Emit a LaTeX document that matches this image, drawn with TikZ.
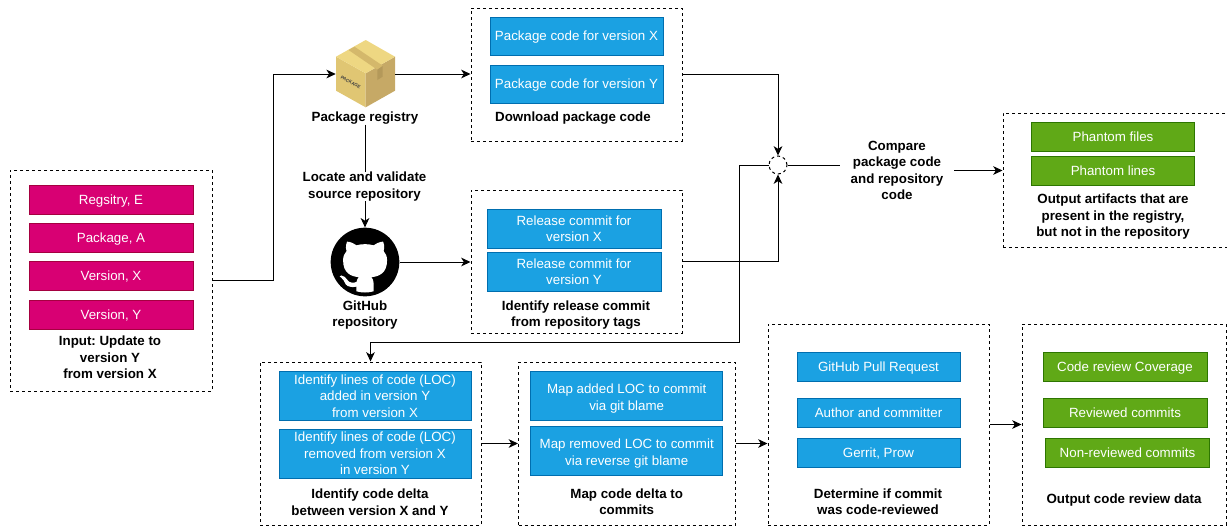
\documentclass[tikz,border=0pt]{standalone}
\usepackage{fontspec}
\setmainfont{Liberation Sans}
\usetikzlibrary{arrows.meta,calc,svg.path}
\definecolor{pinkfill}{HTML}{D80073}
\definecolor{pinkline}{HTML}{A50040}
\definecolor{bluefill}{HTML}{1BA1E2}
\definecolor{blueline}{HTML}{006EAF}
\definecolor{greenfill}{HTML}{60A917}
\definecolor{greenline}{HTML}{2D7600}
\def\topgap{\rule{0pt}{11pt}}
\tikzset{
	wh/.style 2 args={minimum width=#1*0.75pt, minimum height=#2*0.75pt},
	groupbox/.style={draw, line width=0.75pt, dash pattern=on 2.25pt off 2.25pt, inner sep=0pt},
	itembox/.style={draw, line width=0.75pt, inner sep=0pt, text=white, align=center, font=\fontsize{10}{12.4}\selectfont\frenchspacing},
	oneline/.style={text height=7.2pt, text depth=0.4pt},
	pinkbox/.style={itembox, fill=pinkfill, draw=pinkline},
	bluebox/.style={itembox, fill=bluefill, draw=blueline},
	greenbox/.style={itembox, fill=greenfill, draw=greenline},
	caption/.style={align=center, inner sep=0pt, font=\fontsize{10}{12.4}\selectfont\bfseries\frenchspacing},
	link/.style={line width=0.75pt, -{Stealth[length=7pt,width=6.5pt,inset=2pt]}},
	plainlink/.style={line width=0.75pt}
}

\begin{document}
\begin{tikzpicture}[x=0.75pt, y=-0.75pt]
	%%%%% START %%%%%
	\useasboundingbox (0, 0) rectangle (1227, 529);

	% input
	\node[groupbox, wh={202}{221}] (input) at (111, 280.5) {};
	\node[pinkbox, oneline, wh={164}{29}] (registry) at (111, 199.5) {Regsitry, E};
	\node[pinkbox, oneline, wh={164}{29}] (package) at (111, 237.5) {Package, A};
	\node[pinkbox, oneline, wh={164}{29}] (versionx) at (111, 275.5) {Version, X};
	\node[pinkbox, oneline, wh={164}{29}] (versiony) at (111, 314.5) {Version, Y};
	\node[caption] (inputlabel) at (110, 357.5) {Input: Update to\\version Y\\from version X};

	% package icon
	\node[inner sep=0pt, wh={59}{67}] (pkg) at (365.5, 74) {};
	\fill[color={rgb,255:red,224;green,198;blue,115}] (336, 56.7) -- (365.7, 73.3) -- (365.7, 107.3) -- (336, 90.7) -- cycle;
	\fill[color={rgb,255:red,198;green,169;blue,102}] (395, 56.7) -- (365.7, 73.3) -- (365.7, 107.3) -- (395, 90.7) -- cycle;
	\fill[color={rgb,255:red,238;green,215;blue,130}] (365.7, 40) -- (395, 56.7) -- (365.7, 73.3) -- (336, 56.7) -- cycle;
	\fill[color={rgb,255:red,212;green,184;blue,107}] (348.5, 50) -- (354.5, 46.7) -- (382.7, 65.7) -- (377.3, 69.7) -- cycle;
	\fill[color={rgb,255:red,180;green,153;blue,90}] (377.3, 69.7) -- (382.7, 66) -- (382.7, 76.7) -- (377.3, 80) -- cycle;
	\node[inner sep=0pt, rotate=-30, text=black!75, font=\fontsize{3.4}{4}\selectfont\bfseries] (pkgtext) at (350.7, 82.3) {PACKAGE};
	\node[caption] (pkgname) at (365, 118) {Package registry};

	% download
	\node[groupbox, wh={211}{133}] (download) at (576.5, 74.5) {};
	\node[bluebox, oneline, wh={173}{38}] (downx) at (576.5, 36) {Package code for version X};
	\node[bluebox, oneline, wh={173}{38}] (downy) at (576.5, 84) {Package code for version Y};
	\node[caption] (downlabel) at (573, 118) {Download package code};

	\node[caption] (locate) at (364.5, 186.5) {Locate and validate\\source repository};

	% github icon
	\node[circle, fill=black, inner sep=0pt, minimum size=51.5pt] (gh) at (365, 262) {};
	\begin{scope}
		\clip (365, 262) circle (30.5);
		\begin{scope}[shift={(330.5, 227.5)}, xscale=3.234, yscale=-3.234]
			\fill[white] svg {M6.02 15.8 V15.21 c0-.19-.01-.82-.01-1.49-2.01.37-2.53-.49-2.69-.94-.09-.23-.48-.94-.82-1.13-.28-.15-.68-.52-.01-.53.63-.01 1.08.58 1.23.82.72 1.21 1.87.87 2.33.66.07-.52.28-.87.51-1.07-1.78-.2-3.64-.89-3.64-3.95 0-.87.31-1.59.82-2.15-.08-.2-.36-1.02.08-2.12 0 0 .67-.21 2.2.82.64-.18 1.32-.27 2-.27.68 0 1.36.09 2 .27 1.53-1.04 2.2-.82 2.2-.82.44 1.1.16 1.92.08 2.12.51.56.82 1.27.82 2.15 0 3.07-1.87 3.75-3.65 3.95.29.25.54.73.54 1.48 0 1.07-.01 1.93-.01 2.2 V15.8 z};
		\end{scope}
	\end{scope}
	\node[caption] (ghname) at (365, 315) {GitHub\\repository};

	% release
	\node[groupbox, wh={211}{143}] (release) at (576.5, 261.5) {};
	\node[bluebox, wh={174}{39}] (relx) at (574, 228.5) {Release commit for\\version X};
	\node[bluebox, wh={174}{39}] (rely) at (574, 271.5) {Release commit for\\version Y};
	\node[caption] (rellabel) at (576, 315) {Identify release commit\\from repository tags};

	% compare
	\node[circle, draw, line width=0.75pt, dash pattern=on 2.25pt off 2.25pt, inner sep=0pt, minimum size=13.5pt] (junction) at (778, 165) {};
	\node[caption, inner xsep=8pt] (compare) at (897, 170.5) {Compare\\package code\\and repository\\code};

	% phantom
	\node[groupbox, wh={224}{134}] (phantom) at (1115, 180) {};
	\node[greenbox, oneline, wh={163.5}{29.5}] (phfiles) at (1113, 137) {Phantom files};
	\node[greenbox, oneline, wh={163.5}{29}] (phlines) at (1113, 170.5) {Phantom lines};
	\node[caption] (phlabel) at (1113, 217) {Output artifacts that are\\present in the registry,\\but not in the repository};

	% delta
	\node[groupbox, wh={221}{163}] (delta) at (370.5, 443.5) {};
	\node[bluebox, wh={192}{49}] (deltaadd) at (375, 396) {Identify lines of code (LOC)\\added in version Y\\from version X};
	\node[bluebox, wh={192}{49}] (deltarem) at (375, 453.5) {Identify lines of code (LOC)\\removed from version X\\in version Y};
	\node[caption] (deltalabel) at (370, 502) {Identify code delta\\between version X and Y};

	% map
	\node[groupbox, wh={216.5}{163}] (map) at (626.75, 443.5) {};
	\node[bluebox, wh={192}{48.5}] (mapadd) at (626.7, 396) {\topgap Map added LOC to commit\\via git blame};
	\node[bluebox, wh={192}{48.5}] (maprem) at (626.7, 451) {\topgap Map removed LOC to commit\\via reverse git blame};
	\node[caption] (maplabel) at (626.7, 501.5) {Map code delta to\\commits};

	% review
	\node[groupbox, wh={221}{201}] (review) at (878.5, 424.5) {};
	\node[bluebox, oneline, wh={163}{29.5}] (pullreq) at (878.5, 366.8) {GitHub Pull Request};
	\node[bluebox, oneline, wh={163}{29}] (author) at (878.5, 412.5) {Author and committer};
	\node[bluebox, oneline, wh={163}{29}] (gerrit) at (878.5, 453.3) {Gerrit, Prow};
	\node[caption] (reviewlabel) at (878, 501.5) {Determine if commit\\was code-reviewed};

	% output
	\node[groupbox, wh={204}{201}] (output) at (1124, 424.5) {};
	\node[greenbox, oneline, wh={164}{29.5}] (coverage) at (1125, 366.8) {Code review Coverage};
	\node[greenbox, oneline, wh={164}{29}] (reviewed) at (1125, 412.5) {Reviewed commits};
	\node[greenbox, oneline, wh={164}{29}] (nonreviewed) at (1127.5, 453.3) {Non-reviewed commits};
	\node[caption] (outlabel) at (1124, 500) {Output code review data};

	%%%%% CONNECTORS %%%%%
	\coordinate (bendinput) at (273.5, 74);
	\coordinate (bendjunction) at (739.3, 342.7);
	\draw[link] (input.east) -| (bendinput) -- (pkg.west);
	\draw[link] (pkg.east) -- (pkg.east -| download.west);
	\draw[plainlink] (pkgname.south) -- (pkgname.south |- locate.north);
	\draw[link] (locate.south -| gh.north) -- (gh.north);
	\draw[link] (gh.east) -- (gh.east -| release.west);
	\draw[link] (download.east) -| (junction.north);
	\draw[link] (release.east) -| (junction.south);
	\draw[link] (junction.west) -| (bendjunction) -| (delta.north);
	\draw[plainlink] (junction.east) -- (junction.east -| compare.west);
	\draw[link] (compare.east) -- (compare.east -| phantom.west);
	\draw[link] (delta.east) -- (delta.east -| map.west);
	\draw[link] (map.east) -- (map.east -| review.west);
	\draw[link] (review.east) -- (output.west);

	%%%%% END %%%%%
\end{tikzpicture}
\end{document}
